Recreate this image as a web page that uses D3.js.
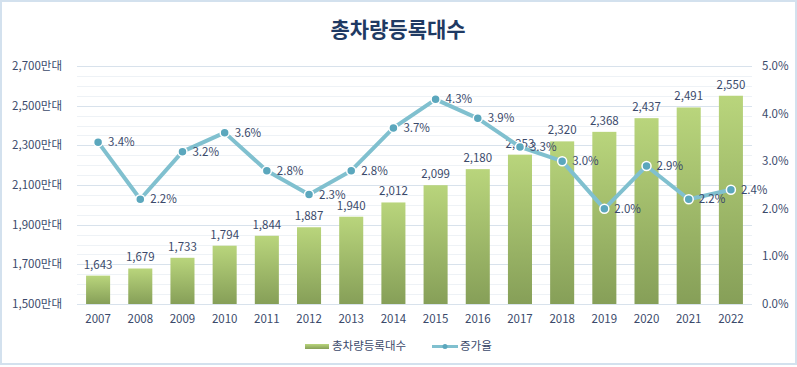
<!DOCTYPE html>
<html>
<head>
<meta charset="utf-8">
<title>총차량등록대수</title>
<script src="https://d3js.org/d3.v7.min.js"></script>
<style>
  html, body { margin: 0; padding: 0; background: #fff; }
  svg { display: block; font-family: "Noto Sans CJK KR", "Noto Sans", sans-serif; }
</style>
</head>
<body>
<svg id="chart" width="797" height="367"></svg>
<script>
// data
var years = ["2007","2008","2009","2010","2011","2012","2013","2014","2015","2016","2017","2018","2019","2020","2021","2022"];
var totals = [1643,1679,1733,1794,1844,1887,1940,2012,2099,2180,2253,2320,2368,2437,2491,2550];
var rates = [3.4,2.2,3.2,3.6,2.8,2.3,2.8,3.7,4.3,3.9,3.3,3.0,2.0,2.9,2.2,2.4];
var leftTicks = [1500,1700,1900,2100,2300,2500,2700];
var rightTicks = [0,1,2,3,4,5];

var svg = d3.select("#chart"),
    W = 797, H = 367,
    margin = { top: 66, right: 45, bottom: 63, left: 77 };

var textColor = "#3b4a6b";

// border
svg.append("rect")
  .attr("x", 1).attr("y", 1).attr("width", W - 2).attr("height", H - 4)
  .attr("fill", "#fff").attr("stroke", "#d3e1ee").attr("stroke-width", 2);

var defs = svg.append("defs");
var grad = defs.append("linearGradient")
  .attr("id", "barGrad").attr("x1", 0).attr("y1", 0).attr("x2", 0).attr("y2", 1);
grad.append("stop").attr("offset", "0%").attr("stop-color", "#b9d57c");
grad.append("stop").attr("offset", "100%").attr("stop-color", "#869f58");

var x = d3.scaleBand().domain(years).range([margin.left, W - margin.right]).paddingInner(0.43).paddingOuter(0.215);
var y = d3.scaleLinear().domain([1500, 2700]).range([H - margin.bottom, margin.top]);
var y2 = d3.scaleLinear().domain([0, 5]).range([H - margin.bottom, margin.top]);

// gridlines
var g = svg.append("g");
g.selectAll(".minor")
  .data(d3.range(1500, 2701, 50))
  .enter().append("line")
    .attr("x1", margin.left).attr("x2", W - margin.right)
    .attr("y1", function (d) { return Math.round(y(d)) + 0.5; })
    .attr("y2", function (d) { return Math.round(y(d)) + 0.5; })
    .attr("stroke", function (d) { return d % 200 === 100 ? "#d8e2ec" : "#eef2f6"; })
    .attr("stroke-width", 1);

// left axis
g.selectAll(".ltick")
  .data(leftTicks)
  .enter().append("text")
    .attr("x", 62).attr("y", function (d) { return y(d); })
    .attr("dy", "0.35em")
    .attr("text-anchor", "end")
    .attr("font-size", 11.5)
    .attr("fill", textColor)
    .text(function (d) { return d3.format(",")(d) + "만대"; });

// right axis
g.selectAll(".rtick")
  .data(rightTicks)
  .enter().append("text")
    .attr("x", 762).attr("y", function (d) { return y2(d); })
    .attr("dy", "0.35em")
    .attr("font-size", 11.5)
    .attr("fill", textColor)
    .text(function (d) { return d3.format(".1f")(d) + "%"; });

// bars
svg.selectAll(".bar")
  .data(totals)
  .enter().append("rect")
    .attr("x", function (d, i) { return x(years[i]); })
    .attr("y", function (d) { return y(d); })
    .attr("width", x.bandwidth())
    .attr("height", function (d) { return y(1500) - y(d); })
    .attr("fill", "url(#barGrad)");

svg.selectAll(".barlabel")
  .data(totals)
  .enter().append("text")
    .attr("x", function (d, i) { return x(years[i]) + x.bandwidth() / 2; })
    .attr("y", function (d) { return y(d) - 7; })
    .attr("text-anchor", "middle")
    .attr("font-size", 11.5)
    .attr("fill", textColor)
    .text(function (d) { return d3.format(",")(d); });

// year labels
svg.selectAll(".xl")
  .data(years)
  .enter().append("text")
    .attr("x", function (d) { return x(d) + x.bandwidth() / 2; })
    .attr("y", 319)
    .attr("dy", "0.35em")
    .attr("text-anchor", "middle")
    .attr("font-size", 11.5)
    .attr("fill", textColor)
    .text(function (d) { return d; });

// line
var line = d3.line()
  .x(function (d, i) { return x(years[i]) + x.bandwidth() / 2; })
  .y(function (d) { return y2(d); });

svg.append("path")
  .datum(rates)
  .attr("d", line)
  .attr("fill", "none")
  .attr("stroke", "#80c0cf")
  .attr("stroke-width", 4)
  .attr("stroke-linejoin", "round");

svg.selectAll(".dot")
  .data(rates)
  .enter().append("circle")
    .attr("cx", function (d, i) { return x(years[i]) + x.bandwidth() / 2; })
    .attr("cy", function (d) { return y2(d); })
    .attr("r", 4.5)
    .attr("fill", "#5ba7bd")
    .attr("stroke", "#fff")
    .attr("stroke-width", 1.5);

svg.selectAll(".ratelabel")
  .data(rates)
  .enter().append("text")
    .attr("x", function (d, i) { return x(years[i]) + x.bandwidth() / 2 + 10; })
    .attr("y", function (d) { return y2(d); })
    .attr("dy", "0.35em")
    .attr("font-size", 11.5)
    .attr("fill", textColor)
    .text(function (d) { return d3.format(".1f")(d) + "%"; });

// title
svg.append("text")
  .attr("x", 398).attr("y", 30)
  .attr("dy", "0.35em")
  .attr("text-anchor", "middle")
  .attr("font-size", 21)
  .attr("font-weight", "bold")
  .attr("fill", "#1f3a63")
  .text("총차량등록대수");

// legend
var lg = svg.append("g");
lg.append("rect").attr("x", 305).attr("y", 344).attr("width", 24).attr("height", 5).attr("fill", "url(#barGrad)");
lg.append("text").attr("x", 332).attr("y", 346).attr("dy", "0.35em")
  .attr("font-size", 11.5).attr("fill", textColor).text("총차량등록대수");
lg.append("line").attr("x1", 432).attr("x2", 458).attr("y1", 346.5).attr("y2", 346.5)
  .attr("stroke", "#80c0cf").attr("stroke-width", 3);
lg.append("circle").attr("cx", 445).attr("cy", 346.5).attr("r", 2.5).attr("fill", "#5ba7bd");
lg.append("text").attr("x", 460).attr("y", 346).attr("dy", "0.35em")
  .attr("font-size", 11.5).attr("fill", textColor).text("증가율");
</script>
</body>
</html>
